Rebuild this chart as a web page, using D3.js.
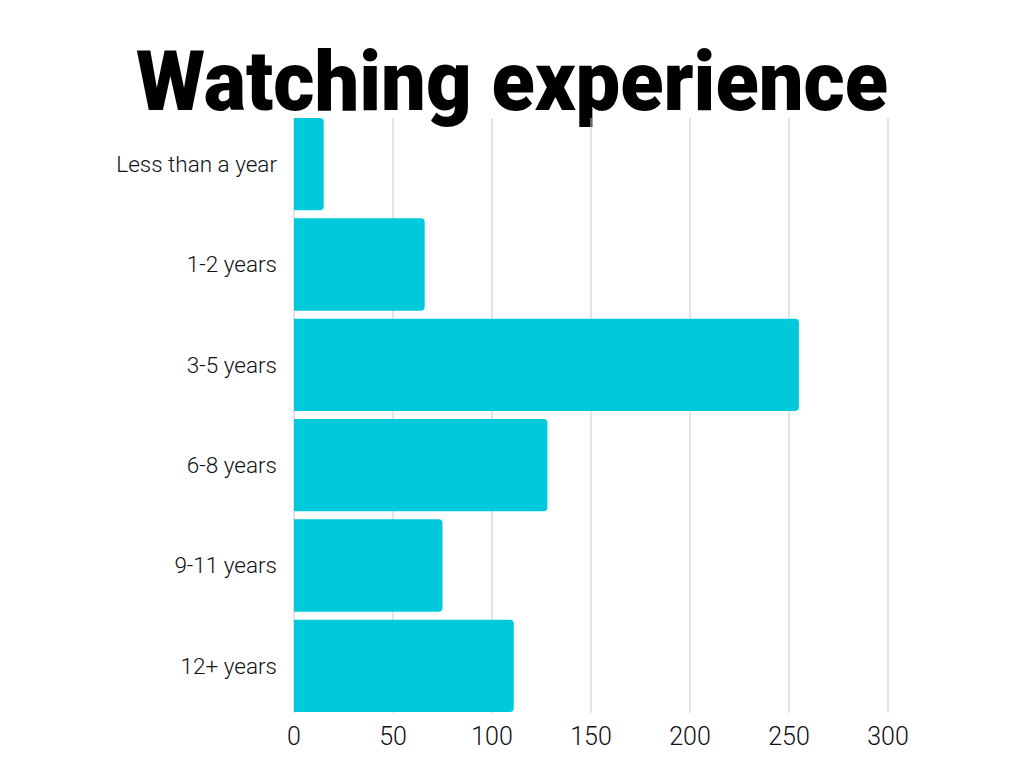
<!DOCTYPE html>
<html>
<head>
<meta charset="utf-8">
<script src="https://cdn.jsdelivr.net/npm/d3@7"></script>
<style>
	body { margin: 0; background: #fff; }
	svg { display: block; }
</style>
</head>
<body>
<svg id="chart" width="1024" height="768"></svg>
<script>
// Data
const categories = ["Less than a year", "1-2 years", "3-5 years", "6-8 years", "9-11 years", "12+ years"];
const counts = [15, 66, 255, 128, 75, 111];
const xTicks = [0, 50, 100, 150, 200, 250, 300];

const data = categories.map((c, i) => ({cat: c, value: counts[i]}));

const svg = d3.select("#chart");

// Plot area
const plotLeft = 294, plotRight = 888;
const plotTop = 114, plotBottom = 716;

const x = d3.scaleLinear()
	.domain([0, 300])
	.range([plotLeft, plotRight]);

const y = d3.scaleBand()
	.domain(categories)
	.range([plotTop, plotBottom])
	.paddingInner(0.08)
	.paddingOuter(0.04);

const gridTop = y(categories[0]);
const gridBottom = y(categories[categories.length - 1]) + y.bandwidth() + 1;

// Title
svg.append("text")
	.attr("x", 512)
	.attr("y", 110)
	.attr("text-anchor", "middle")
	.attr("textLength", 752)
	.attr("lengthAdjust", "spacingAndGlyphs")
	.style("font-family", "Roboto, 'Liberation Sans', sans-serif")
	.style("font-weight", 900)
	.style("font-size", "84px")
	.style("fill", "#000")
	.text("Watching experience");

// Gridlines (incl. the zero line)
svg.append("g")
	.selectAll("line")
	.data(xTicks)
	.join("line")
		.attr("x1", d => x(d))
		.attr("x2", d => x(d))
		.attr("y1", gridTop)
		.attr("y2", gridBottom)
		.attr("stroke", "#c8c8c8")
		.attr("stroke-width", 1);

// Bars: square on the left, rounded on the right
const r = 4;
function barPath(d) {
	const x0 = x(0), x1 = x(d.value);
	const y0 = y(d.cat), y1 = y0 + y.bandwidth();
	return "M" + x0 + "," + y0 +
		"H" + (x1 - r) +
		"Q" + x1 + "," + y0 + " " + x1 + "," + (y0 + r) +
		"V" + (y1 - r) +
		"Q" + x1 + "," + y1 + " " + (x1 - r) + "," + y1 +
		"H" + x0 + "Z";
}

svg.append("g")
	.selectAll("path")
	.data(data)
	.join("path")
		.attr("d", barPath)
		.attr("fill", "#00c9db");

// Category labels
svg.append("g")
	.selectAll("text")
	.data(data)
	.join("text")
		.attr("x", 277)
		.attr("y", d => y(d.cat) + y.bandwidth() / 2)
		.attr("dy", "0.35em")
		.attr("text-anchor", "end")
		.style("font-family", "Roboto, sans-serif")
		.style("font-weight", 300)
		.style("font-size", "22.5px")
		.style("fill", "#111")
		.text(d => d.cat);

// X tick labels
svg.append("g")
	.selectAll("text")
	.data(xTicks)
	.join("text")
		.attr("x", d => x(d))
		.attr("y", 745)
		.attr("text-anchor", "middle")
		.style("font-family", "Roboto, sans-serif")
		.style("font-weight", 300)
		.style("font-size", "25px")
		.style("fill", "#111")
		.text(d => d);
</script>
</body>
</html>
